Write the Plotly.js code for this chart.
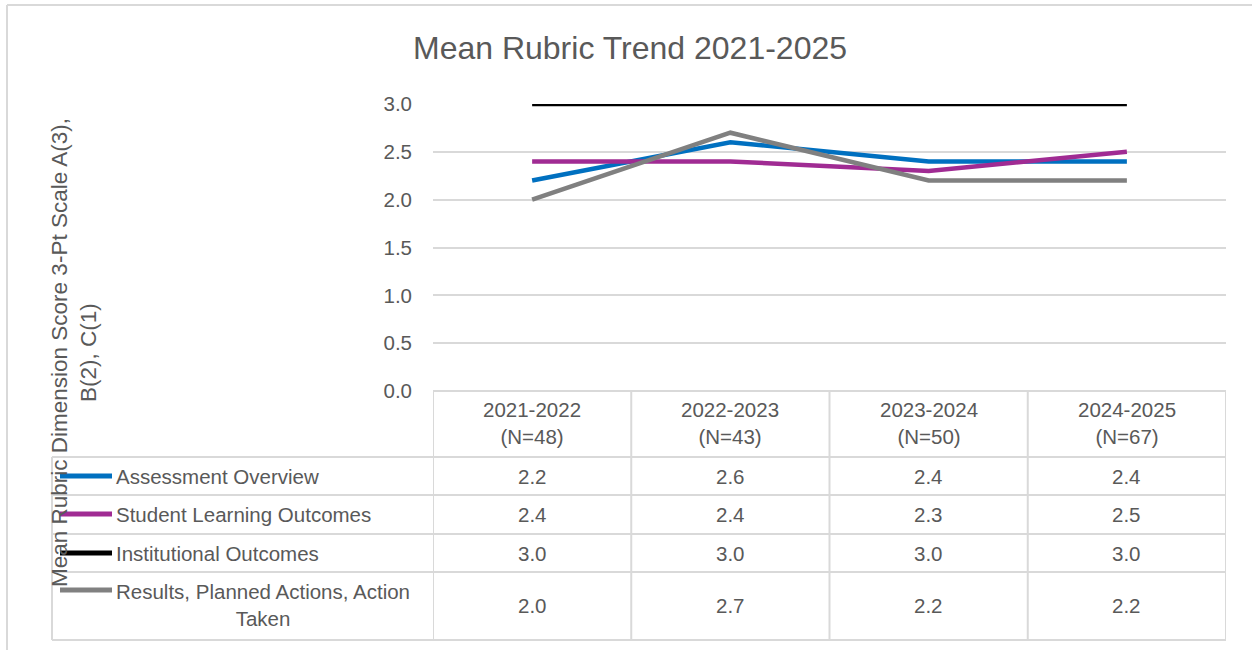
<!DOCTYPE html>
<html>
<head>
<meta charset="utf-8">
<script src="https://cdn.plot.ly/plotly-3.0.1.min.js"></script>
<style>html,body{margin:0;padding:0;background:#fff;}#chart{width:1252px;height:650px;}</style>
</head>
<body>
<div id="chart"></div>
<script>
// ---- data ----
const years = ["2021-2022", "2022-2023", "2023-2024", "2024-2025"];
const counts = [48, 43, 50, 67];
const seriesNames = ["Assessment Overview", "Student Learning Outcomes", "Institutional Outcomes", "Results, Planned Actions, Action<br>Taken"];
const assessmentOverview = [2.2, 2.6, 2.4, 2.4];
const studentLearningOutcomes = [2.4, 2.4, 2.3, 2.5];
const institutionalOutcomes = [3.0, 3.0, 3.0, 3.0];
const resultsActions = [2.0, 2.7, 2.2, 2.2];
const yTicks = [0, 0.5, 1.0, 1.5, 2.0, 2.5, 3.0];

// ---- styling ----
const W = 1252, H = 650;
const px = x => x / W;
const py = y => 1 - y / H;
const colors = ["#0070C0", "#A02B93", "#000000", "#808080"];
const seriesValues = [assessmentOverview, studentLearningOutcomes, institutionalOutcomes, resultsActions];
const txt = "#595959";
const grid = "#d9d9d9";
const FONT = "Liberation Sans, Arial, sans-serif";
const FS = 20.5;

const cats = years.map((y, i) => i);

const traces = seriesValues.map((vals, k) => ({
  x: cats, y: vals, type: "scatter", mode: "lines",
  name: seriesNames[k].replace("<br>", " "),
  line: {color: colors[k], width: 4.5},
  hoverinfo: "skip"
}));

// table geometry (pixels)
const tblLeft = 52, tblRight = 1226, plotLeft = 433;
const rowEdges = [391, 457, 495, 534, 572, 640];
const rowCenters = [476, 514, 553, 605];

const shapes = [];
const lineStyle = {color: grid, width: 2};
// outer chart border
shapes.push({type: "line", xref: "paper", yref: "paper", x0: px(7), x1: 1, y0: py(5), y1: py(5), line: lineStyle});
shapes.push({type: "line", xref: "paper", yref: "paper", x0: px(7), x1: px(7), y0: py(5), y1: 0, line: lineStyle});
// horizontal table lines
rowEdges.forEach((y, i) => {
  shapes.push({type: "line", xref: "paper", yref: "paper",
    x0: px(i === 0 ? plotLeft : tblLeft), x1: px(tblRight), y0: py(y), y1: py(y), line: lineStyle});
});
// vertical column lines (on category boundaries)
for (let i = 0; i <= years.length; i++) {
  shapes.push({type: "line", xref: "x", yref: "paper", x0: i - 0.5, x1: i - 0.5,
    y0: py(rowEdges[0]), y1: py(rowEdges[rowEdges.length - 1]), line: lineStyle});
}
shapes.push({type: "line", xref: "paper", yref: "paper", x0: px(tblLeft), x1: px(tblLeft),
  y0: py(rowEdges[1]), y1: py(rowEdges[rowEdges.length - 1]), line: lineStyle});
// legend keys
seriesValues.forEach((v, k) => {
  const yk = rowCenters[k] - (k === 3 ? 15 : 0);
  shapes.push({type: "line", xref: "paper", yref: "paper", x0: px(60), x1: px(112),
    y0: py(yk), y1: py(yk), line: {color: colors[k], width: 5}});
});

const annotations = [];
// header cells
years.forEach((y, i) => {
  annotations.push({xref: "x", yref: "paper", x: i, y: py(423), text: y + "<br>(N=" + counts[i] + ")",
    showarrow: false, font: {family: FONT, size: FS, color: txt}, xanchor: "center", yanchor: "middle", align: "center"});
});
// value cells
seriesValues.forEach((vals, k) => {
  vals.forEach((v, i) => {
    annotations.push({xref: "x", yref: "paper", x: i, y: py(rowCenters[k]), text: v.toFixed(1),
      showarrow: false, font: {family: FONT, size: FS, color: txt}, xanchor: "center", yanchor: "middle"});
  });
  annotations.push({xref: "paper", yref: "paper", x: px(114), y: py(rowCenters[k]), text: seriesNames[k],
    showarrow: false, font: {family: FONT, size: FS, color: txt}, xanchor: "left", yanchor: "middle",
    align: k === 3 ? "center" : "left"});
});
// y-axis title
annotations.push({xref: "paper", yref: "paper", x: px(74), y: py(353), textangle: -90,
  text: "Mean Rubric Dimension Score 3-Pt Scale A(3),<br>B(2), C(1)", showarrow: false,
  font: {family: FONT, size: 22.5, color: txt}, xanchor: "center", yanchor: "middle", align: "center"});

const layout = {
  width: W, height: H,
  margin: {l: 0, r: 0, t: 0, b: 0},
  paper_bgcolor: "#ffffff", plot_bgcolor: "#ffffff",
  showlegend: false,
  title: {text: "Mean Rubric Trend 2021-2025", x: px(630), xanchor: "center", y: py(48), yanchor: "middle",
    font: {family: FONT, size: 32, color: txt}},
  xaxis: {domain: [px(plotLeft), px(tblRight)], range: [-0.5, years.length - 0.5], type: "linear",
    showticklabels: false, showgrid: false, zeroline: false, ticks: "", showline: false, fixedrange: true},
  yaxis: {domain: [py(391), py(104)], range: [0, 3], tickvals: yTicks, ticktext: yTicks.map(v => v.toFixed(1)),
    showgrid: true, gridcolor: grid, gridwidth: 2, zeroline: false, showline: false, ticks: "",
    ticklabelstandoff: 20, tickfont: {family: FONT, size: FS, color: txt}, fixedrange: true},
  shapes: shapes,
  annotations: annotations
};

Plotly.newPlot("chart", traces, layout, {displayModeBar: false, staticPlot: true});
</script>
</body>
</html>
